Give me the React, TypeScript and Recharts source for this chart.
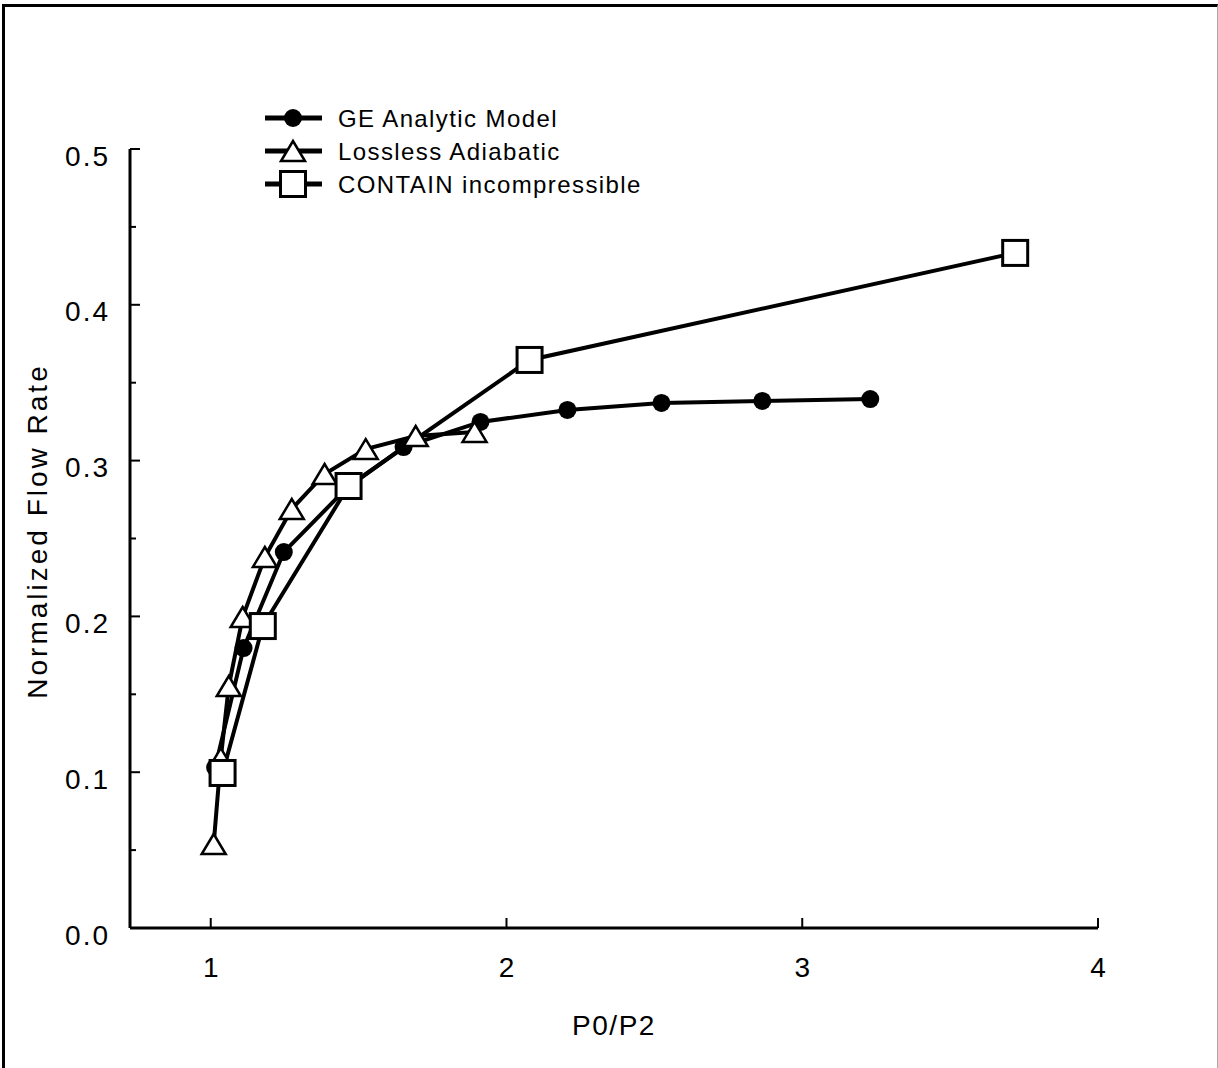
import React from 'react';
import { LineChart, Line, XAxis, YAxis, Legend, Label } from 'recharts';

// values
const geX = [1.015, 1.111, 1.247, 1.458, 1.652, 1.912, 2.206, 2.524, 2.865, 3.23];
const geY = [0.103, 0.1797, 0.2413, 0.282, 0.3087, 0.3248, 0.3325, 0.337, 0.3383, 0.3395];

const lossX = [1.01, 1.034, 1.061, 1.108, 1.183, 1.274, 1.385, 1.524, 1.693, 1.892];
const lossY = [0.0539, 0.109, 0.1553, 0.1996, 0.2381, 0.2689, 0.2914, 0.3074, 0.3158, 0.3184];

const contX = [1.04, 1.176, 1.466, 2.078, 3.72];
const contY = [0.0995, 0.1938, 0.2837, 0.3646, 0.4333];

const xTicks = [1, 2, 3, 4];
const yTicks = [0, 0.05, 0.1, 0.15, 0.2, 0.25, 0.3, 0.35, 0.4, 0.45, 0.5];

const seriesNames = ['GE Analytic Model', 'Lossless Adiabatic', 'CONTAIN incompressible'];

const geData = geX.map((x, i) => ({ x, y: geY[i] }));
const lossData = lossX.map((x, i) => ({ x, y: lossY[i] }));
const contData = contX.map((x, i) => ({ x, y: contY[i] }));

const W = 1218;
const H = 1068;
const PLOT_LEFT = 130;
const PLOT_BOTTOM = 928;
const FONT = '"Liberation Sans", Arial, Helvetica, sans-serif';

const Circle = ({ cx, cy }: any) => <circle cx={cx} cy={cy} r={9} fill="#000" />;
const Triangle = ({ cx, cy }: any) => (
  <polygon
    points={`${cx - 12},${cy + 10} ${cx + 12},${cy + 10} ${cx},${cy - 10}`}
    fill="#fff"
    stroke="#000"
    strokeWidth={2.5}
    strokeLinejoin="miter"
  />
);
const Square = ({ cx, cy }: any) => (
  <rect x={cx - 12.5} y={cy - 12.5} width={25} height={25} fill="#fff" stroke="#000" strokeWidth={3} />
);

const YTick = (props: any) => {
  const { y, payload } = props;
  const v = payload.value;
  const major = Math.abs(v * 10 - Math.round(v * 10)) < 1e-6;
  return (
    <g>
      <line x1={PLOT_LEFT} x2={PLOT_LEFT + (major ? 10 : 6)} y1={y} y2={y} stroke="#000" strokeWidth={2} />
      {major && (
        <text x={110} y={y + 7} textAnchor="end" dominantBaseline="central" fontSize={28} letterSpacing={2} fill="#000" fontFamily={FONT}>
          {v.toFixed(1)}
        </text>
      )}
    </g>
  );
};

const XTick = (props: any) => {
  const { x, payload } = props;
  return (
    <g>
      <line x1={x} x2={x} y1={PLOT_BOTTOM} y2={PLOT_BOTTOM - 10} stroke="#000" strokeWidth={2} />
      <text x={x} y={PLOT_BOTTOM + 39} textAnchor="middle" dominantBaseline="central" fontSize={28} fill="#000" fontFamily={FONT}>
        {payload.value}
      </text>
    </g>
  );
};

const renderLegend = () => {
  const markers = [Circle, Triangle, Square];
  return (
    <svg width={420} height={110} style={{ display: 'block' }}>
      {seriesNames.map((name, i) => {
        const y = 18 + i * 33;
        const M = markers[i];
        return (
          <g key={name}>
            <line x1={5} x2={62} y1={y} y2={y} stroke="#000" strokeWidth={5} />
            <M cx={33} cy={y} />
            <text x={78} y={y} dominantBaseline="central" fontSize={24} letterSpacing={1.4} fill="#000" fontFamily={FONT}>
              {name}
            </text>
          </g>
        );
      })}
    </svg>
  );
};

export default function App() {
  return (
    <div style={{ position: 'absolute', left: 0, top: 0, width: W, height: H, background: '#fff', fontFamily: FONT }}>
      <div
        style={{
          position: 'absolute',
          left: 2,
          top: 4,
          width: W - 6,
          height: H - 6,
          borderLeft: '3px solid #000',
          borderTop: '3px solid #000',
          borderRight: '1px solid #aaa',
          borderBottom: '1px solid #ccc',
        }}
      />
      <LineChart width={W} height={H} margin={{ top: 149, right: 120, bottom: 80, left: 0 }} style={{ position: 'absolute', left: 0, top: 0 }}>
        <XAxis
          type="number"
          dataKey="x"
          domain={[0.727, 4]}
          ticks={xTicks}
          allowDataOverflow
          height={60}
          axisLine={{ stroke: '#000', strokeWidth: 3 }}
          tickLine={false}
          tick={<XTick />}
        >
          <Label value="P0/P2" position="bottom" offset={27} fontSize={28} letterSpacing={1.5} fill="#000" fontFamily={FONT} />
        </XAxis>
        <YAxis
          type="number"
          dataKey="y"
          domain={[0, 0.5]}
          ticks={yTicks}
          allowDataOverflow
          width={130}
          axisLine={{ stroke: '#000', strokeWidth: 3 }}
          tickLine={false}
          tick={<YTick />}
        >
          <Label
            content={() => (
              <text
                x={37}
                y={531}
                transform="rotate(-90 37 531)"
                textAnchor="middle"
                dominantBaseline="central"
                fontSize={28}
                letterSpacing={3}
                fill="#000"
                fontFamily={FONT}
              >
                Normalized Flow Rate
              </text>
            )}
          />
        </YAxis>
        <Legend
          layout="horizontal"
          verticalAlign="middle"
          align="center"
          content={renderLegend}
          wrapperStyle={{ position: 'absolute', left: 260, top: 100, width: 420, height: 110 }}
        />
        <Line data={geData} dataKey="y" name={seriesNames[0]} type="linear" stroke="#000" strokeWidth={4} dot={(p: any) => <Circle key={`g${p.index}`} cx={p.cx} cy={p.cy} />} isAnimationActive={false} />
        <Line data={lossData} dataKey="y" name={seriesNames[1]} type="linear" stroke="#000" strokeWidth={4} dot={(p: any) => <Triangle key={`l${p.index}`} cx={p.cx} cy={p.cy} />} isAnimationActive={false} />
        <Line data={contData} dataKey="y" name={seriesNames[2]} type="linear" stroke="#000" strokeWidth={4} dot={(p: any) => <Square key={`c${p.index}`} cx={p.cx} cy={p.cy} />} isAnimationActive={false} />
      </LineChart>
    </div>
  );
}
